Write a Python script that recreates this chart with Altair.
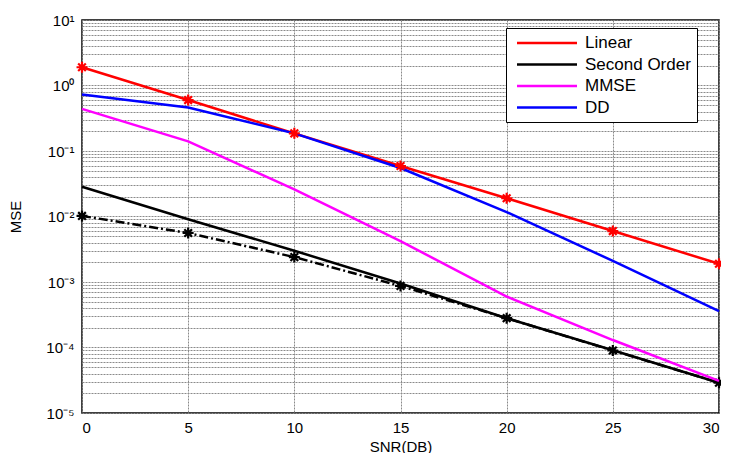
import altair as alt
import pandas as pd

snr = [0, 5, 10, 15, 20, 25, 30]
linear = [1.9, 0.60, 0.186, 0.059, 0.019, 0.006, 0.0019]
second_order = [0.0285, 0.0091, 0.003, 0.00095, 0.00028, 0.000091, 0.000029]
mmse = [0.44, 0.14, 0.026, 0.0042, 0.0006, 0.00013, 0.000031]
dd = [0.73, 0.46, 0.186, 0.055, 0.0117, 0.0021, 0.00036]
dashdot = [0.0102, 0.0056, 0.0024, 0.00087, 0.00028, 0.00009, 0.000029]

series_names = ["Linear", "Second Order", "MMSE", "DD"]
series_colors = ["#ff0000", "#000000", "#ff00ff", "#0000ff"]
series_values = [linear, second_order, mmse, dd]

x_ticks = [0, 5, 10, 15, 20, 25, 30]
decades = [-5, -4, -3, -2, -1, 0, 1]

rows = []
for name, vals in zip(series_names, series_values):
    for s, v in zip(snr, vals):
        rows.append({"snr": s, "mse": v, "series": name})
df = pd.DataFrame(rows)
df_dd = pd.DataFrame({"snr": snr, "mse": dashdot})
df_lin = pd.DataFrame({"snr": snr, "mse": linear})

# y tick values (major + minor for the log grid)
y_vals = []
for k in decades[:-1]:
    for m in range(1, 10):
        y_vals.append(float(f"{m}e{k}"))
y_vals.append(10.0)

sup = {"0": "\u2070", "1": "\u00b9", "2": "\u00b2", "3": "\u00b3", "4": "\u2074",
       "5": "\u2075", "-": "\u207b"}
parts = []
for k in decades:
    v = float(f"1e{k}")
    lab = "10" + "".join(sup[c] for c in str(k))
    parts.append(f"abs(datum.value - {v!r}) < {v * 1e-6!r} ? '{lab}'")
label_expr = " : ".join(parts) + " : ''"

FONT = "Liberation Sans"

xenc = alt.X("snr:Q", scale=alt.Scale(domain=[0, 30], nice=False, zero=False),
             axis=alt.Axis(values=x_ticks, title="SNR(DB)", format="d",
                           labelFontSize=15, labelPadding=7,
                           titleY=38, titleBaseline="alphabetic"))
yenc = alt.Y("mse:Q", scale=alt.Scale(type="log", domain=[1e-5, 10], nice=False),
             axis=alt.Axis(values=y_vals, labelExpr=label_expr, title="MSE",
                           labelFontSize=15, labelPadding=8))

legend_line = "M-4,0L4,0"

lines = alt.Chart(df).mark_line(strokeWidth=2.5).encode(
    x=xenc, y=yenc,
    color=alt.Color("series:N",
                    scale=alt.Scale(domain=series_names, range=series_colors),
                    sort=series_names,
                    legend=alt.Legend(title=None, orient="none", legendX=424, legendY=8,
                                      symbolType=legend_line, symbolSize=225,
                                      symbolStrokeWidth=2.5, symbolOffset=26,
                                      labelFontSize=17, labelFont=FONT,
                                      labelColor="black",
                                      strokeColor="black", fillColor="white",
                                      padding=6, rowPadding=4.5, labelOffset=29,
                                      cornerRadius=0)),
)

dash_line = alt.Chart(df_dd).mark_line(strokeWidth=2.5, color="black",
                                       strokeDash=[9, 3, 2, 3]).encode(x=xenc, y=yenc)

star = "M-1,0L1,0M0,-1L0,1M-0.7,-0.7L0.7,0.7M-0.7,0.7L0.7,-0.7"
dash_pts = alt.Chart(df_dd).mark_point(shape=star, size=120, strokeWidth=2.2,
                                       color="black", filled=False, opacity=1).encode(x=xenc, y=yenc)
lin_pts = alt.Chart(df_lin).mark_point(shape=star, size=120, strokeWidth=2.2,
                                       color="#ff0000", filled=False, opacity=1).encode(x=xenc, y=yenc)

chart = alt.layer(dash_line, dash_pts, lines, lin_pts).properties(
    width=637, height=393,
    padding={"left": 74, "top": 12, "right": 2, "bottom": 40},
    autosize=alt.AutoSizeParams(type="none"),
).configure_view(stroke="black", strokeWidth=1.5).configure_axis(
    labelFont=FONT, titleFont=FONT, labelFontSize=14, titleFontSize=15,
    titleFontWeight="normal", labelColor="black", titleColor="black",
    grid=True, gridColor="#8a8a8a", gridDash=[2, 1], gridWidth=1,
    domain=False, ticks=False, labelPadding=6,
).configure_axisY(titlePadding=22)

chart.save("out.html", embed_options={"renderer": "svg", "actions": False})
